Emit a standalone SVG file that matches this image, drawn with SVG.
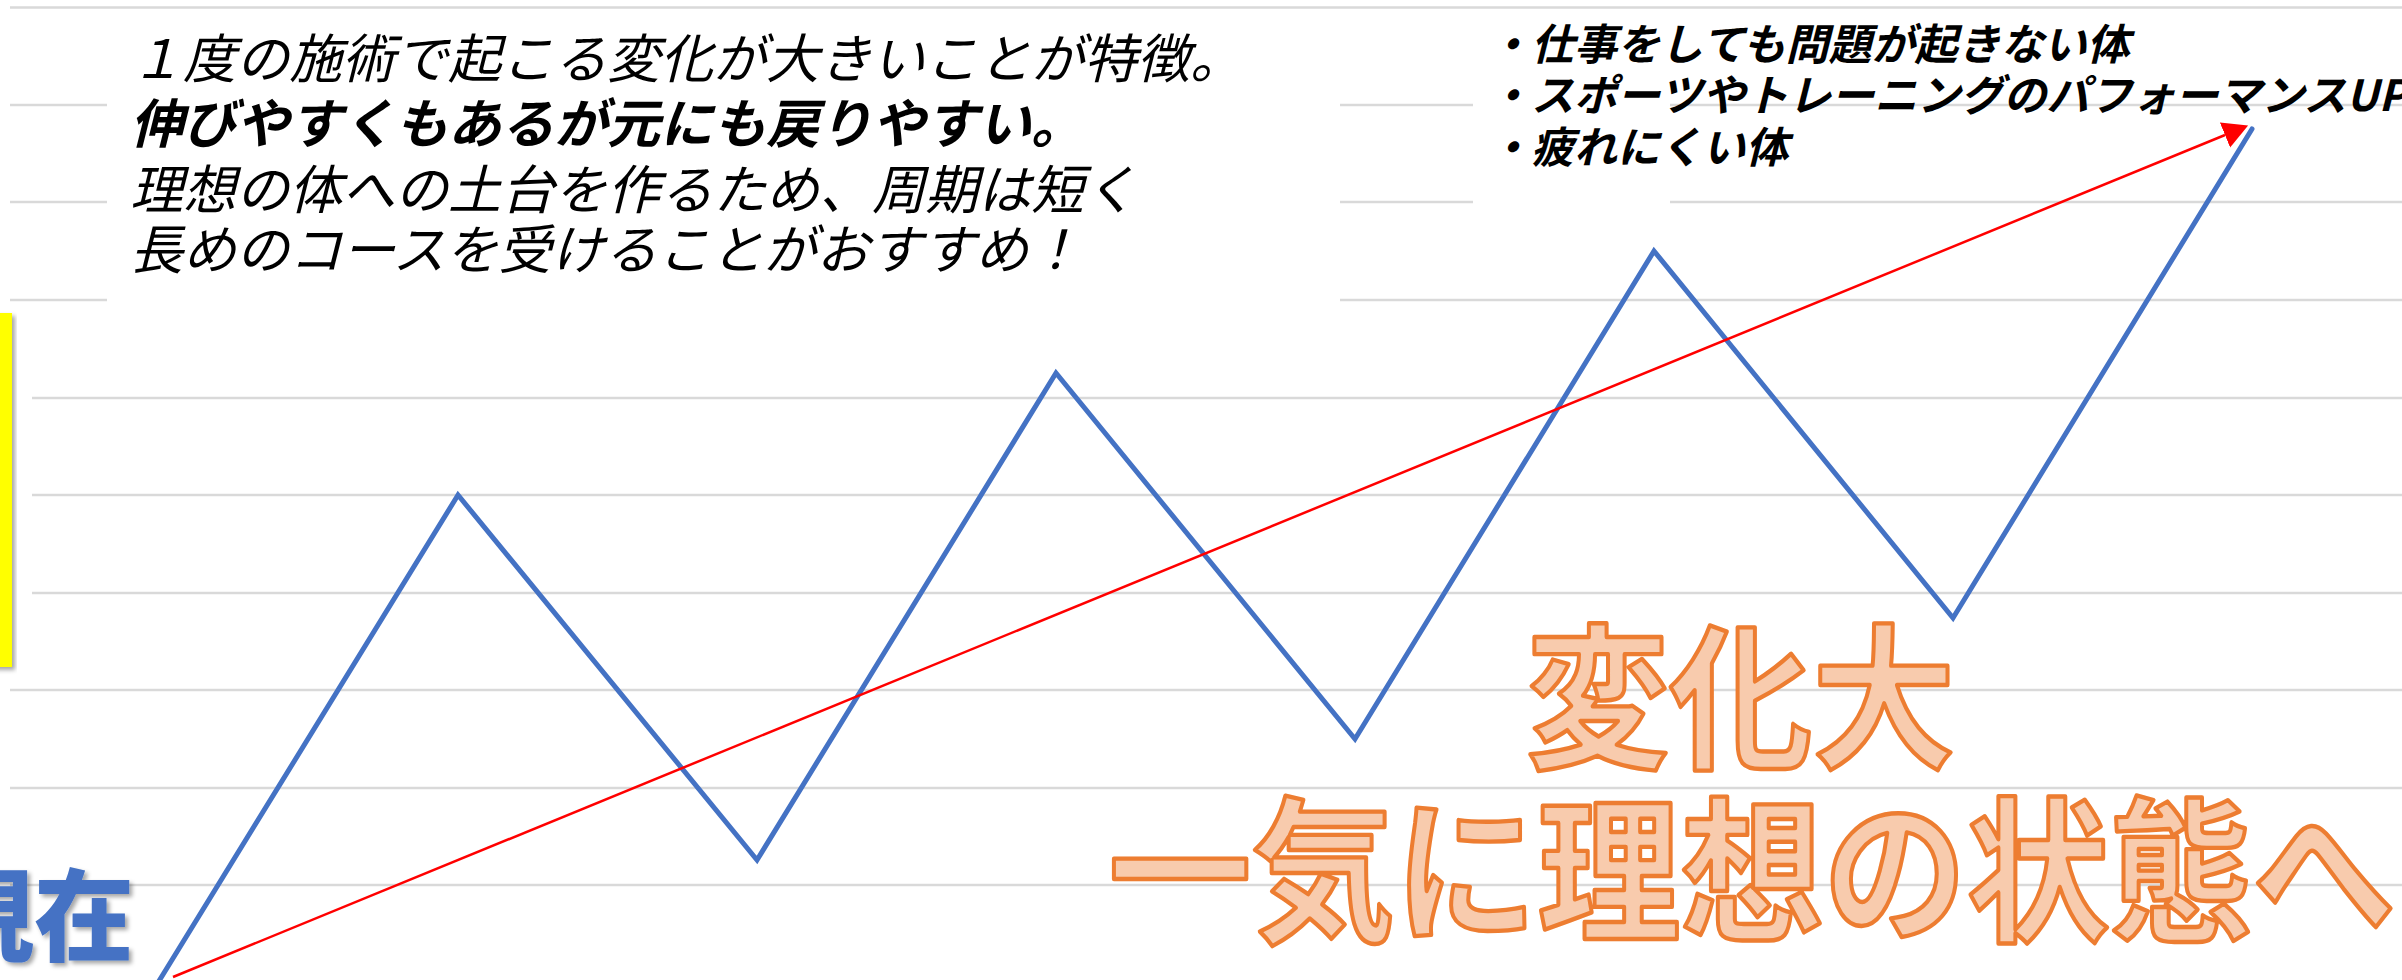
<svg xmlns="http://www.w3.org/2000/svg" width="2402" height="980" viewBox="0 0 2402 980">
  <style>
    .grid { stroke:#D9D9D9; stroke-width:2.5; fill:none; }
    .jp { font-family:"Noto Sans CJK JP","Noto Sans CJK SC",sans-serif; }
    .note { font-size:53px; font-style:italic; fill:#000000; }
    .bullet { font-size:43px; font-style:italic; font-weight:bold; fill:#000000; }
    .big { font-size:143px; font-weight:bold; fill:#F8CBAD; stroke:#ED7D31; stroke-width:4; stroke-linejoin:round; text-anchor:middle; }
    .now { font-size:100px; font-weight:900; fill:#4472C4; text-anchor:end; }
    .ybox { fill:#FFFF00; }
  </style>
  <defs>
    <filter id="shadow" x="-20%" y="-20%" width="140%" height="140%">
      <feDropShadow dx="3" dy="3" stdDeviation="2" flood-color="#000000" flood-opacity="0.35"/>
    </filter>
    <marker id="arrow" markerUnits="userSpaceOnUse" markerWidth="26" markerHeight="28" refX="0" refY="14" orient="auto">
      <path d="M0,0.5 L25,14 L0,27.5 z" fill="#FF0000"/>
    </marker>
  </defs>
  <rect x="0" y="0" width="2402" height="980" fill="#FFFFFF"/>

  <g id="gridlines">
    <line class="grid" x1="10" y1="7.5" x2="2402" y2="7.5"/>
    <line class="grid" x1="10" y1="105" x2="107" y2="105"/>
    <line class="grid" x1="1340" y1="105" x2="1473" y2="105"/>
    <line class="grid" x1="1670" y1="105" x2="2402" y2="105"/>
    <line class="grid" x1="10" y1="202" x2="107" y2="202"/>
    <line class="grid" x1="1340" y1="202" x2="1473" y2="202"/>
    <line class="grid" x1="1670" y1="202" x2="2402" y2="202"/>
    <line class="grid" x1="10" y1="300" x2="107" y2="300"/>
    <line class="grid" x1="1340" y1="300" x2="2402" y2="300"/>
    <line class="grid" x1="32" y1="398" x2="2402" y2="398"/>
    <line class="grid" x1="32" y1="495" x2="2402" y2="495"/>
    <line class="grid" x1="32" y1="593" x2="2402" y2="593"/>
    <line class="grid" x1="10" y1="690" x2="2402" y2="690"/>
    <line class="grid" x1="10" y1="788" x2="2402" y2="788"/>
    <line class="grid" x1="10" y1="885" x2="2402" y2="885"/>
  </g>

  <g id="connectors">
    <polyline points="159,981 458,495 757,860 1056,373 1355,739 1654,251 1953,618 2252,129" fill="none" stroke="#4472C4" stroke-width="5" stroke-linejoin="miter" stroke-linecap="round"/>
    <line x1="173" y1="977" x2="2225" y2="135" stroke="#FF0000" stroke-width="2.5" marker-end="url(#arrow)"/>
  </g>

  <g id="yellow-label" filter="url(#shadow)">
    <rect class="ybox" x="-10" y="313" width="22" height="105"/>
    <rect class="ybox" x="-10" y="418" width="22" height="116"/>
    <rect class="ybox" x="-10" y="534" width="22" height="133"/>
  </g>

  <g id="note-left" class="jp">
    <text class="note">
      <tspan x="130" y="78">１度の施術で起こる変化が大きいことが特徴。</tspan>
      <tspan x="130" y="143" font-weight="bold">伸びやすくもあるが元にも戻りやすい。</tspan>
      <tspan x="130" y="209">理想の体への土台を作るため、周期は短く</tspan>
      <tspan x="130" y="269">長めのコースを受けることがおすすめ！</tspan>
    </text>
  </g>

  <g id="note-right" class="jp">
    <text class="bullet">
      <tspan x="1488" y="60">・仕事をしても問題が起きない体</tspan>
      <tspan x="1488" y="111">・スポーツやトレーニングのパフォーマンスUP</tspan>
      <tspan x="1488" y="163">・疲れにくい体</tspan>
    </text>
  </g>

  <g id="label-now" class="jp" filter="url(#shadow)">
    <text class="now" x="134" y="953">現在</text>
  </g>

  <g id="label-big" class="jp">
    <text class="big" transform="translate(0,756) scale(1,1.09)">
      <tspan x="1757" y="0">変化大</tspan>
      <tspan x="1752" y="158.7">一気に理想の状態へ</tspan>
    </text>
  </g>
</svg>
